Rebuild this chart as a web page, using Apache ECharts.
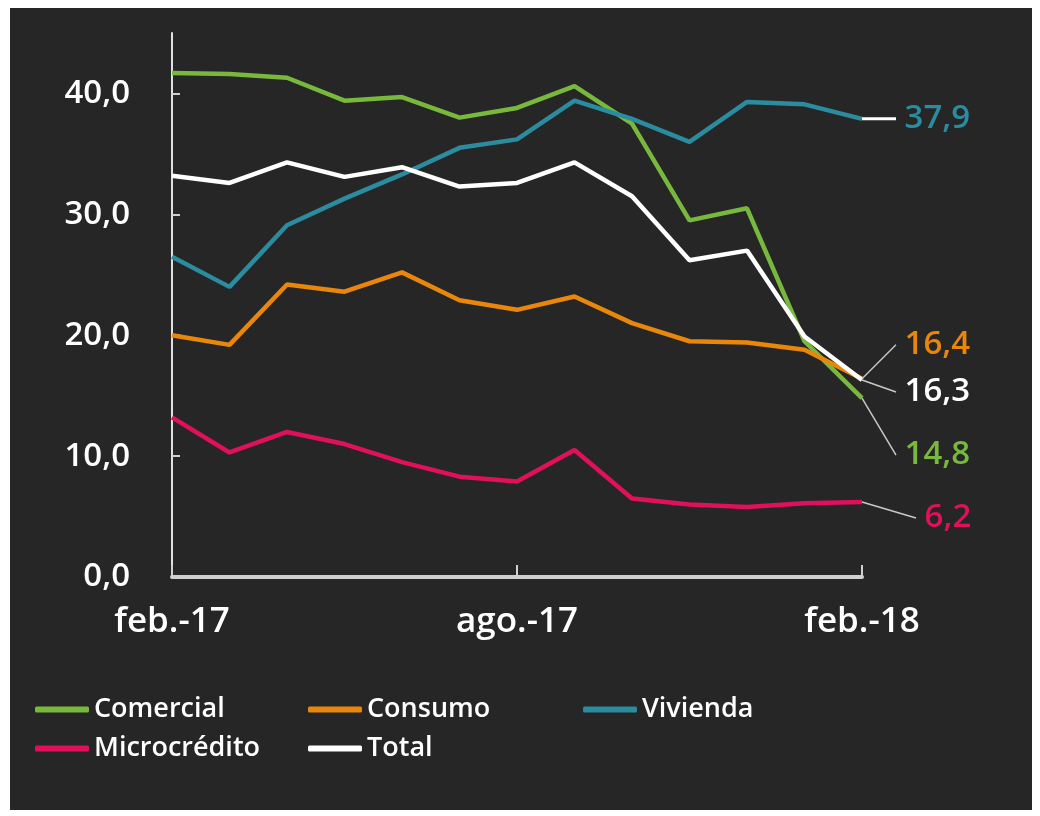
<!DOCTYPE html>
<html>
<head>
<meta charset="utf-8">
<script src="https://cdn.jsdelivr.net/npm/echarts@6/dist/echarts.min.js"></script>
<style>
  html, body { margin: 0; padding: 0; background: #fff; }
  #main { position: absolute; left: 0; top: 0; width: 1040px; height: 816px; }
  #frame { position: absolute; left: 10px; top: 8px; width: 1022px; height: 802px; background: #262626; }
</style>
</head>
<body>
<div id="frame"></div>
<div id="main"></div>
<script>
const months = ['feb.-17', 'mar.-17', 'abr.-17', 'may.-17', 'jun.-17', 'jul.-17', 'ago.-17',
  'sep.-17', 'oct.-17', 'nov.-17', 'dic.-17', 'ene.-18', 'feb.-18']
const yTicks = [0, 10, 20, 30, 40]

const comercial = [41.7, 41.6, 41.3, 39.4, 39.7, 38.0, 38.8, 40.6, 37.5, 29.5, 30.5, 19.5, 14.8]
const consumo = [20.0, 19.2, 24.2, 23.6, 25.2, 22.9, 22.1, 23.2, 21.0, 19.5, 19.4, 18.8, 16.4]
const vivienda = [26.5, 24.0, 29.1, 31.3, 33.3, 35.5, 36.2, 39.4, 37.9, 36.0, 39.3, 39.1, 37.9]
const microcredito = [13.2, 10.3, 12.0, 11.0, 9.5, 8.3, 7.9, 10.5, 6.5, 6.0, 5.8, 6.1, 6.2]
const total = [33.2, 32.6, 34.3, 33.1, 33.9, 32.3, 32.6, 34.3, 31.5, 26.2, 27.0, 19.9, 16.3]

const fontFamily = '"Open Sans", "Noto Sans", sans-serif'
const fmt = (v) => v.toFixed(1).replace('.', ',')

// only the last point carries a value label
const withEndLabel = (arr) => arr.map((v, i) => i === arr.length - 1
  ? { value: v, label: { show: true } }
  : v)

const makeSeries = (name, data, color, dx, dy, leader) => ({
  name: name,
  type: 'line',
  data: withEndLabel(data),
  symbol: 'circle',
  symbolSize: 0,
  showSymbol: true,
  lineStyle: { color: color, width: 4.5 },
  itemStyle: { color: color },
  emphasis: { disabled: true },
  label: {
    show: false,
    position: 'right',
    distance: 5,
    color: color,
    fontSize: 33,
    fontWeight: 600,
    fontFamily: fontFamily,
    // leading space keeps the leader line off the digits
    formatter: (p) => '\u00a0' + fmt(p.value)
  },
  labelLayout: { dx: dx, dy: dy },
  labelLine: {
    show: true,
    lineStyle: leader
  },
  z: 2
})

const grayLeader = { color: '#c8c8c8', width: 1.5 }

const legendItem = (name, left, top) => ({
  left: left,
  top: top,
  padding: 0,
  data: [name],
  icon: 'roundRect',
  itemWidth: 54,
  itemHeight: 6,
  textStyle: { color: '#ffffff', fontSize: 27, fontWeight: 600, fontFamily: fontFamily },
  selectedMode: false
})

const chart = echarts.init(document.getElementById('main'))
chart.setOption({
  backgroundColor: 'transparent',
  animation: false,
  grid: { left: 172, right: 178, top: 33, bottom: 239 },
  legend: [
    legendItem('Comercial', 35, 696),
    legendItem('Consumo', 308, 696),
    legendItem('Vivienda', 583, 696),
    legendItem('Microcrédito', 35, 735),
    legendItem('Total', 308, 735)
  ],
  xAxis: {
    type: 'category',
    boundaryGap: false,
    data: months,
    axisLine: { lineStyle: { color: '#d0d0d0', width: 4 } },
    axisTick: { show: true, inside: true, interval: 5, length: 12, lineStyle: { color: '#d0d0d0', width: 2 } },
    axisLabel: { interval: 5, color: '#ffffff', fontSize: 35, fontWeight: 600, fontFamily: fontFamily, margin: 28 },
    splitLine: { show: false }
  },
  yAxis: {
    type: 'value',
    min: 0,
    max: 45,
    interval: 10,
    axisLine: { show: true, lineStyle: { color: '#e0e0e0', width: 2 } },
    axisTick: { show: true, inside: true, length: 8, customValues: yTicks, lineStyle: { color: '#d0d0d0', width: 2 } },
    axisLabel: { customValues: yTicks, color: '#ffffff', fontSize: 33, fontWeight: 600, fontFamily: fontFamily, margin: 42, formatter: fmt },
    splitLine: { show: false }
  },
  series: [
    makeSeries('Comercial', comercial, '#78b83c', 29, 57, grayLeader),
    makeSeries('Consumo', consumo, '#e8870c', 29, -34, grayLeader),
    makeSeries('Vivienda', vivienda, '#2b8ca0', 29, 0, { color: '#ffffff', width: 3 }),
    makeSeries('Microcrédito', microcredito, '#e0105a', 49, 16, grayLeader),
    makeSeries('Total', total, '#ffffff', 29, 12, grayLeader)
  ]
})
</script>
</body>
</html>
